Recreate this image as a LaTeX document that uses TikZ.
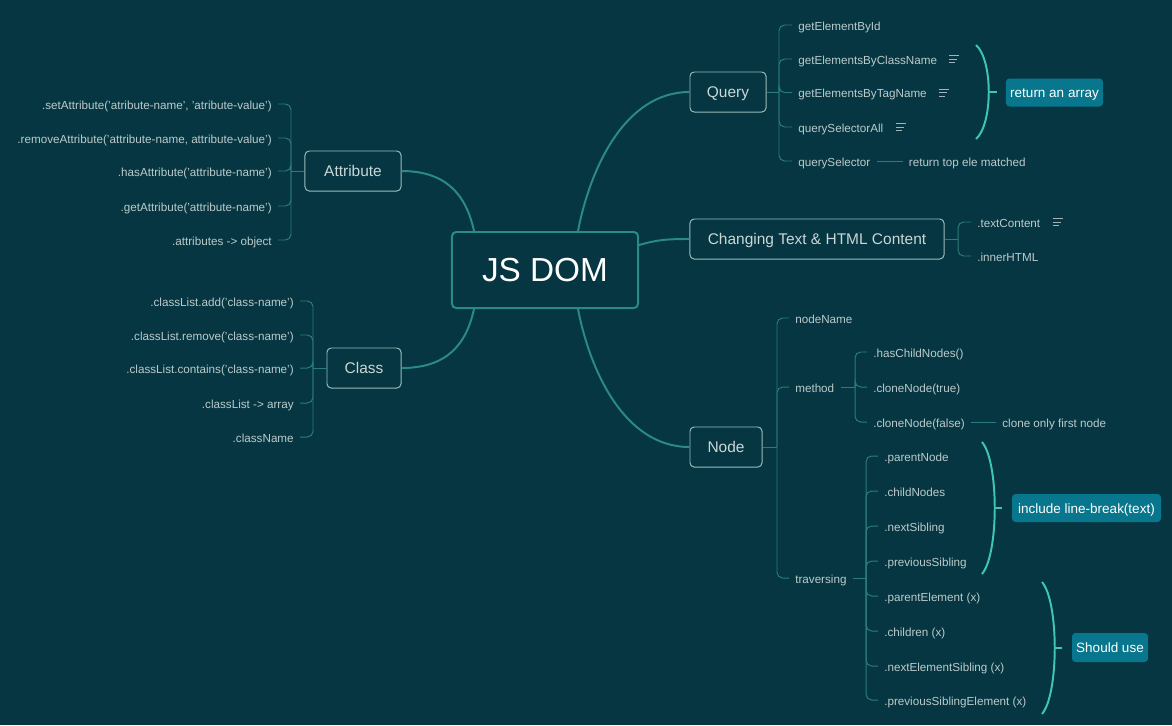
\documentclass[tikz,border=0pt]{standalone}
\usepackage{fontspec}
\setmainfont{Liberation Sans}
\usepackage{xcolor}
\usetikzlibrary{positioning,calc}

\definecolor{bgteal}{HTML}{053641}
\definecolor{branch}{HTML}{2B8A88}
\definecolor{twig}{HTML}{2A7C7E}
\definecolor{boxline}{HTML}{9CBDBD}
\definecolor{leaftext}{HTML}{BCCBCC}
\definecolor{boxtext}{HTML}{CAD7D7}
\definecolor{calloutfill}{HTML}{08768C}
\definecolor{bracket}{HTML}{3FC6B2}

% little "notes" mark behind a leaf
\newcommand{\notesicon}[1]{%
  \draw[leaftext!85!bgteal, line width=0.55pt]
    ($(#1.east)+(6,-3.5)$) -- ++(10,0)
    ($(#1.east)+(6,0)$) -- ++(8,0)
    ($(#1.east)+(6,3.5)$) -- ++(6,0);}

\begin{document}
\begin{tikzpicture}[
    x=0.025cm, y=-0.025cm,
    root/.style={draw=branch, line width=1.4pt, rounded corners=3pt, text=white, font=\fontsize{23.7}{26}\selectfont, minimum width=4.65cm, minimum height=1.9cm},
    topic/.style={draw=boxline, line width=0.7pt, rounded corners=3pt, text=boxtext, font=\fontsize{11}{13}\selectfont, minimum height=1cm, inner sep=0pt, text height=1.45ex, text depth=0pt},
    leaf/.style={anchor=west, inner xsep=4.27pt, inner ysep=0pt, text=leaftext, font=\fontsize{8.3}{10}\selectfont, text height=1.45ex, text depth=0pt},
    leaf left/.style={leaf, anchor=east},
    callout/.style={fill=calloutfill, rounded corners=2.5pt, text=white, font=\fontsize{9.6}{11}\selectfont, inner sep=0pt, minimum height=0.7cm, text height=1.45ex, text depth=0pt},
    main link/.style={draw=branch, line width=1.4pt},
    sub link/.style={draw=twig, line width=0.7pt, rounded corners=4pt},
    paren/.style={draw=bracket, line width=1.4pt}
]
    \fill[bgteal] (0,0) rectangle (1172,725);
    \useasboundingbox (0,0) rectangle (1172,725);

    % centre
    \node[root] (dom) at (545,270) {JS DOM};

    % topics
    \node[topic, minimum width=1.9cm] (query) at (728,92) {Query};
    \node[topic, minimum width=6.35cm] (content) at (817,239) {Changing Text \& HTML Content};
    \node[topic, minimum width=1.8cm] (nodebox) at (726,447) {Node};
    \node[topic, minimum width=2.4cm] (attr) at (353,171) {Attribute};
    \node[topic, minimum width=1.85cm] (cls) at (364,368) {Class};

    % main branches
    \draw[main link] ($(dom.north)+(33,0)$) .. controls +(12,-62) and +(-65,0) .. (query.west);
    \draw[main link] ($(dom.east)+(0,-25)$) .. controls +(18,-5) and +(-25,0) .. (content.west);
    \draw[main link] ($(dom.south)+(33,0)$) .. controls +(12,62) and +(-65,0) .. (nodebox.west);
    \draw[main link] ($(dom.north)+(-71,0)$) .. controls +(-8,-37) and +(44,0) .. (attr.east);
    \draw[main link] ($(dom.south)+(-71,0)$) .. controls +(-8,37) and +(44,0) .. (cls.east);

    % Query
    \coordinate (qhub) at (779,92.5);
    \node[leaf] (qById) at (792,25) {getElementById};
    \node[leaf] (qByClass) at (792,59) {getElementsByClassName};
    \node[leaf] (qByTag) at (792,92.5) {getElementsByTagName};
    \node[leaf] (qAll) at (792,127) {querySelectorAll};
    \node[leaf] (qOne) at (792,161) {querySelector};
    \node[leaf, right=0.65cm of qOne] (qTop) {return top ele matched};
    \draw[sub link] (query) -- (qhub);
    \foreach \c in {qById,qByClass,qByTag,qAll,qOne}
        \draw[sub link] (qhub) |- (\c.west);
    \draw[sub link] (qOne) -- (qTop);
    \notesicon{qByClass}
    \notesicon{qByTag}
    \notesicon{qAll}
    \draw[paren] (976,45) .. controls (993,60) and (993,124) .. (976,139);
    \coordinate (qbrace) at (989,92);
    \draw[paren] (qbrace) -- ++(8,0);
    \node[callout, minimum width=2.425cm] (array) at (1054.5,92.5) {return an array};

    % Changing Text & HTML Content
    \coordinate (chub) at (958,239);
    \node[leaf] (txt) at (971,222) {.textContent};
    \node[leaf] (html) at (971,256) {.innerHTML};
    \draw[sub link] (content) -- (chub);
    \foreach \c in {txt,html}
        \draw[sub link] (chub) |- (\c.west);
    \notesicon{txt}

    % Node
    \coordinate (nhub) at (777,447);
    \node[leaf] (nName) at (789,318) {nodeName};
    \node[leaf] (nMethod) at (789,387) {method};
    \node[leaf] (nTrav) at (789,578) {traversing};
    \draw[sub link] (nodebox) -- (nhub);
    \foreach \c in {nName,nMethod,nTrav}
        \draw[sub link] (nhub) |- (\c.west);

    % Node / method
    \coordinate (mhub) at (855,387);
    \node[leaf] (mHas) at (867,352) {.hasChildNodes()};
    \node[leaf] (mDeep) at (867,387) {.cloneNode(true)};
    \node[leaf] (mFlat) at (867,422) {.cloneNode(false)};
    \node[leaf, right=0.625cm of mFlat] (mNote) {clone only first node};
    \draw[sub link] (nMethod) -- (mhub);
    \foreach \c in {mHas,mDeep,mFlat}
        \draw[sub link] (mhub) |- (\c.west);
    \draw[sub link] (mFlat) -- (mNote);

    % Node / traversing
    \coordinate (thub) at (866,578);
    \node[leaf] (tParent) at (878,456) {.parentNode};
    \node[leaf] (tKids) at (878,491) {.childNodes};
    \node[leaf] (tNext) at (878,526) {.nextSibling};
    \node[leaf] (tPrev) at (878,561) {.previousSibling};
    \node[leaf] (tParentEl) at (878,596) {.parentElement (x)};
    \node[leaf] (tChildren) at (878,631) {.children (x)};
    \node[leaf] (tNextEl) at (878,666) {.nextElementSibling (x)};
    \node[leaf] (tPrevEl) at (878,700) {.previousSiblingElement (x)};
    \draw[sub link] (nTrav) -- (thub);
    \foreach \c in {tParent,tKids,tNext,tPrev,tParentEl,tChildren,tNextEl,tPrevEl}
        \draw[sub link] (thub) |- (\c.west);

    \draw[paren] (982,442) .. controls (999,462) and (999,554) .. (982,574);
    \coordinate (tbrace1) at (995,508);
    \draw[paren] (tbrace1) -- ++(7,0);
    \node[callout, minimum width=3.725cm] (linebreak) at (1086.5,508) {include line-break(text)};

    \draw[paren] (1042,582) .. controls (1059,602) and (1059,694) .. (1042,714);
    \coordinate (tbrace2) at (1055,648);
    \draw[paren] (tbrace2) -- ++(7,0);
    \node[callout, minimum width=1.9cm, minimum height=0.725cm] (shoulduse) at (1110,647.5) {Should use};

    % Attribute
    \coordinate (ahub) at (291,171);
    \node[leaf left] (aSet) at (278,104) {.setAttribute('atribute-name', 'atribute-value')};
    \node[leaf left] (aRemove) at (278,138) {.removeAttribute('attribute-name, attribute-value')};
    \node[leaf left] (aHas) at (278,171) {.hasAttribute('attribute-name')};
    \node[leaf left] (aGet) at (278,206) {.getAttribute('attribute-name')};
    \node[leaf left] (aAll) at (278,240) {.attributes -> object};
    \draw[sub link] (attr) -- (ahub);
    \foreach \c in {aSet,aRemove,aHas,aGet,aAll}
        \draw[sub link] (ahub) |- (\c.east);

    % Class
    \coordinate (khub) at (313,368);
    \node[leaf left] (kAdd) at (300,301) {.classList.add('class-name')};
    \node[leaf left] (kRemove) at (300,335) {.classList.remove('class-name')};
    \node[leaf left] (kHas) at (300,368) {.classList.contains('class-name')};
    \node[leaf left] (kList) at (300,403) {.classList -> array};
    \node[leaf left] (kName) at (300,437) {.className};
    \draw[sub link] (cls) -- (khub);
    \foreach \c in {kAdd,kRemove,kHas,kList,kName}
        \draw[sub link] (khub) |- (\c.east);
\end{tikzpicture}
\end{document}
